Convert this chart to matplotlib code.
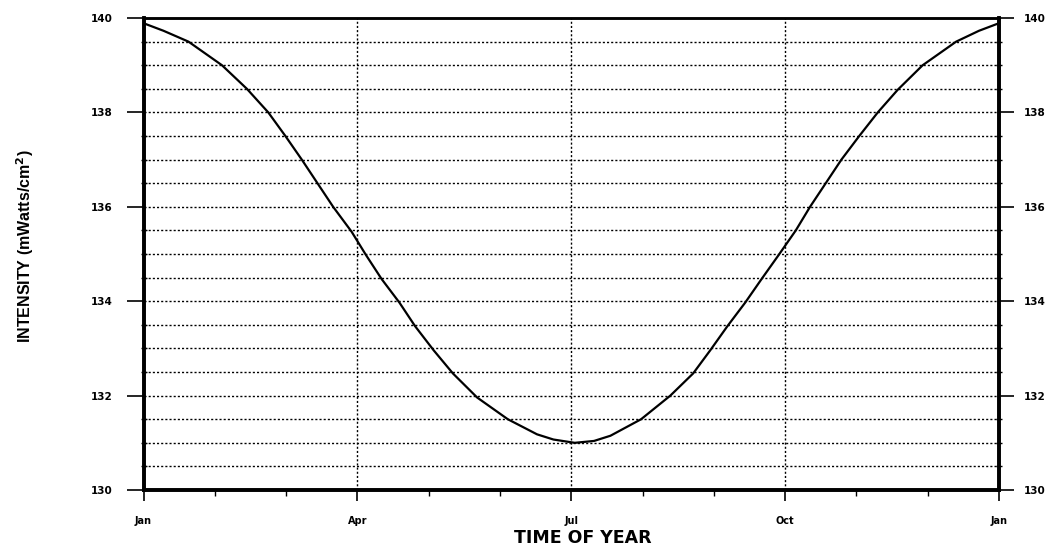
"""Solar intensity over the year (reference recreation)."""
import matplotlib
matplotlib.use('Agg')
import matplotlib.pyplot as plt
import numpy as np

# month position (0 = Jan 1 ... 12 = next Jan) and intensity
months = [0.00, 0.28, 0.63, 1.10, 1.45, 1.75, 1.99, 2.22, 2.44, 2.66, 2.92,
          3.12, 3.34, 3.59, 3.81, 4.07, 4.34, 4.68, 5.11, 5.52, 5.75, 6.05,
          6.32, 6.55, 6.98, 7.39, 7.71, 7.95, 8.19, 8.44, 8.67, 8.91, 9.15,
          9.35, 9.57, 9.79, 10.04, 10.30, 10.58, 10.93, 11.40, 11.72, 12.00]
intensity = [139.89, 139.73, 139.50, 139.00, 138.50, 138.00, 137.50, 137.00,
             136.50, 136.00, 135.47, 134.98, 134.47, 133.97, 133.47, 132.96,
             132.47, 131.96, 131.50, 131.18, 131.07, 131.00, 131.04, 131.15,
             131.50, 132.00, 132.47, 132.96, 133.47, 133.97, 134.47, 134.98,
             135.50, 136.00, 136.50, 137.00, 137.50, 138.00, 138.48, 139.00,
             139.50, 139.73, 139.89]
tick_months = [0, 3, 6, 9, 12]
tick_labels = ['Jan', 'Apr', 'Jul', 'Oct', 'Jan']
y_ticks = [130, 132, 134, 136, 138, 140]

plt.rcParams['font.family'] = ['DejaVu Sans']
plt.rcParams['font.weight'] = 'bold'

fig = plt.figure(figsize=(10.47, 5.48), dpi=100)
ax = fig.add_axes([0.1371, 0.1058, 0.8170, 0.8613])

ax.plot(months, intensity, color='black', lw=1.6, solid_joinstyle='round', zorder=3)

ax.set_xlim(0, 12)
ax.set_ylim(130, 140)

# grid: every half unit in y, quarters of the year in x
for v in np.arange(130.5, 140, 0.5):
    ax.axhline(v, color='black', lw=1.0, ls=(0, (1.5, 1.5)), zorder=1)
for m in tick_months[1:-1]:
    ax.axvline(m, color='black', lw=1.0, ls=(0, (1.5, 1.5)), zorder=1)

ax.set_xticks(tick_months)
ax.set_xticklabels(tick_labels, fontsize=7, fontweight='bold')
ax.set_xticks(range(13), minor=True)
ax.set_yticks(y_ticks)
ax.set_yticklabels([str(t) for t in y_ticks], fontsize=7.5, fontweight='bold')
ax.set_yticks(np.arange(130, 140.01, 0.5), minor=True)
ax.tick_params(axis='y', which='major', direction='out', length=12, width=1.2, pad=10)
ax.tick_params(axis='y', which='minor', direction='inout', length=5, width=1.0)
ax.tick_params(axis='x', which='major', direction='out', length=8, width=1.2, pad=11)
ax.tick_params(axis='x', which='minor', direction='out', length=4, width=1.0)

# right-hand copy of the intensity scale
ax2 = ax.twinx()
ax2.set_ylim(130, 140)
ax2.set_yticks(y_ticks)
ax2.set_yticklabels([str(t) for t in y_ticks], fontsize=7.5, fontweight='bold')
ax2.set_yticks(np.arange(130, 140.01, 0.5), minor=True)
ax2.tick_params(axis='y', which='major', direction='out', length=11, width=1.2, pad=7)
ax2.tick_params(axis='y', which='minor', direction='inout', length=5, width=1.0)

for a in (ax, ax2):
    for side in ['left', 'right', 'bottom']:
        a.spines[side].set_linewidth(2.6)
    a.spines['top'].set_linewidth(1.8)

fig.text(25 / 1047, 1 - 246 / 548, 'INTENSITY (mWatts/cm$^\\mathbf{2}$)',
         rotation=90, ha='center', va='center', fontsize=11.5, fontweight='bold',
         family='Liberation Sans')
fig.text(583 / 1047, 1 - 538 / 548, 'TIME OF YEAR', ha='center', va='center',
         fontsize=12.5, fontweight='bold')

fig.savefig('out.png', dpi=100)
